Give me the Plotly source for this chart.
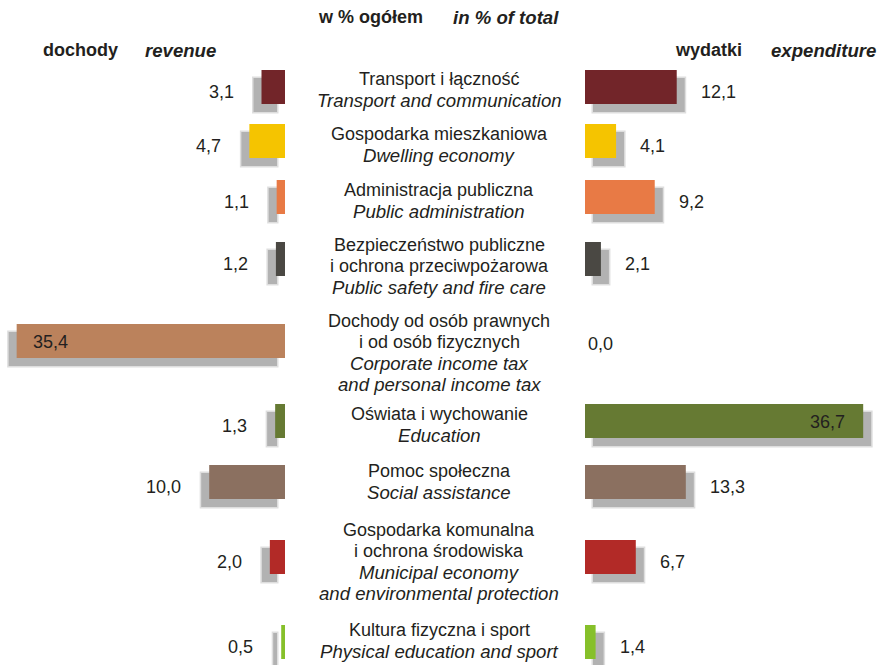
import plotly.graph_objects as go

# --- data -------------------------------------------------------------------
CATEGORIES_PL = [
    "Transport i łączność",
    "Gospodarka mieszkaniowa",
    "Administracja publiczna",
    "Bezpieczeństwo publiczne<br>i ochrona przeciwpożarowa",
    "Dochody od osób prawnych<br>i od osób fizycznych",
    "Oświata i wychowanie",
    "Pomoc społeczna",
    "Gospodarka komunalna<br>i ochrona środowiska",
    "Kultura fizyczna i sport",
]
CATEGORIES_EN = [
    "Transport and communication",
    "Dwelling economy",
    "Public administration",
    "Public safety and fire care",
    "Corporate income tax<br>and personal income tax",
    "Education",
    "Social assistance",
    "Municipal economy<br>and environmental protection",
    "Physical education and sport",
]
REVENUE = [3.1, 4.7, 1.1, 1.2, 35.4, 1.3, 10.0, 2.0, 0.5]
EXPENDITURE = [12.1, 4.1, 9.2, 2.1, 0.0, 36.7, 13.3, 6.7, 1.4]

# --- styling / layout -------------------------------------------------------
COLORS = ["#722529", "#f5c400", "#e87a45", "#4a4843", "#bb825c",
          "#667a33", "#8b7060", "#b22a27", "#86c02a"]
W, H = 878, 665
ROW_Y = [87, 141, 197, 259, 341, 421, 482, 557, 642]       # bar centres (px)
TEXT_Y = [79, 134, 190, 245, 321, 414, 471, 530, 630]      # first label line (px)
LINE_PITCH = 21
BAR_H = 34
PX_PER_UNIT = 7.58
LEFT_ZERO_PX, RIGHT_ZERO_PX = 285, 585
SHADOW_DX = 8 / PX_PER_UNIT
SHADOW_DY = 8
FONT = "Liberation Sans, Arial, sans-serif"
TXT = "#231f20"
FS = 18
FS_ITALIC = 18.6

fig = go.Figure()


def add_side(values, xaxis):
    # blurred drop shadow (halo + core), then the coloured bar on top
    ys = [y + SHADOW_DY for y in ROW_Y]
    halo_x = [v + 0.4 if v > 0 else 0 for v in values]
    fig.add_trace(go.Bar(
        orientation="h", x=halo_x, y=ys, base=SHADOW_DX - 0.2, width=BAR_H + 3,
        marker=dict(color="#dedede", line_width=0), xaxis=xaxis, yaxis="y",
        hoverinfo="skip", showlegend=False))
    fig.add_trace(go.Bar(
        orientation="h", x=values, y=ys, base=SHADOW_DX, width=BAR_H,
        marker=dict(color="#b2b2b2", line_width=0), xaxis=xaxis, yaxis="y",
        hoverinfo="skip", showlegend=False))
    fig.add_trace(go.Bar(
        orientation="h", x=values, y=ROW_Y, base=0, width=BAR_H,
        marker=dict(color=COLORS, line_width=0), xaxis=xaxis, yaxis="y",
        showlegend=False))


add_side(REVENUE, "x")
add_side(EXPENDITURE, "x2")

ann = []


def fmt(v):
    return f"{v:.1f}".replace(".", ",")


# value labels
for v, y in zip(REVENUE, ROW_Y):
    if v > 30:
        ann.append(dict(x=v, y=y + 1, xref="x", yref="y", text=fmt(v),
                        xanchor="left", xshift=14, showarrow=False))
    else:
        ann.append(dict(x=v, y=y + 5, xref="x", yref="y", text=fmt(v),
                        xanchor="right", xshift=-26, showarrow=False))
for v, y in zip(EXPENDITURE, ROW_Y):
    if v > 30:
        ann.append(dict(x=v, y=y + 1, xref="x2", yref="y", text=fmt(v),
                        xanchor="right", xshift=-16, showarrow=False))
    elif v == 0:
        ann.append(dict(x=v, y=y + 3, xref="x2", yref="y", text=fmt(v),
                        xanchor="left", xshift=1, showarrow=False))
    else:
        ann.append(dict(x=v, y=y + 5, xref="x2", yref="y", text=fmt(v),
                        xanchor="left", xshift=22, showarrow=False))

# category labels in the middle column, one annotation per line
for pl, en, y0 in zip(CATEGORIES_PL, CATEGORIES_EN, TEXT_Y):
    lines = [(s, FS) for s in pl.split("<br>")]
    lines += [(f"<i>{s}</i>", FS_ITALIC) for s in en.split("<br>")]
    for i, (line, size) in enumerate(lines):
        ann.append(dict(x=0.5, y=y0 + i * LINE_PITCH, xref="paper", yref="y",
                        text=line, xanchor="center", showarrow=False,
                        font=dict(family=FONT, size=size, color=TXT)))


# headers
def header(text, xpx, ypx, anchor="left", size=FS):
    ann.append(dict(x=xpx / W, y=ypx, xref="paper", yref="y", text=text,
                    xanchor=anchor, showarrow=False,
                    font=dict(family=FONT, size=size, color=TXT)))


header("<b>w % ogółem</b>", 316, 17)
header("<b><i>in % of total</i></b>", 451, 17, size=FS_ITALIC)
header("<b>dochody</b>", 41, 50)
header("<b><i>revenue</i></b>", 143, 50, size=FS_ITALIC)
header("<b>wydatki</b>", 673, 50)
header("<b><i>expenditure</i></b>", 878, 50, anchor="right", size=FS_ITALIC)

for a in ann:
    a.setdefault("font", dict(family=FONT, size=FS, color=TXT))
    a.setdefault("yanchor", "middle")

hidden = dict(visible=False, showgrid=False, zeroline=False, fixedrange=True)
fig.update_layout(
    width=W, height=H,
    margin=dict(l=0, r=0, t=0, b=0),
    paper_bgcolor="white", plot_bgcolor="white",
    barmode="overlay",
    xaxis=dict(domain=[0, LEFT_ZERO_PX / W],
               range=[LEFT_ZERO_PX / PX_PER_UNIT, 0], **hidden),
    xaxis2=dict(domain=[RIGHT_ZERO_PX / W, 1],
                range=[0, (W - RIGHT_ZERO_PX) / PX_PER_UNIT], **hidden),
    yaxis=dict(domain=[0, 1], range=[H, 0], **hidden),
    annotations=ann,
)

fig.write_html("out.html")
